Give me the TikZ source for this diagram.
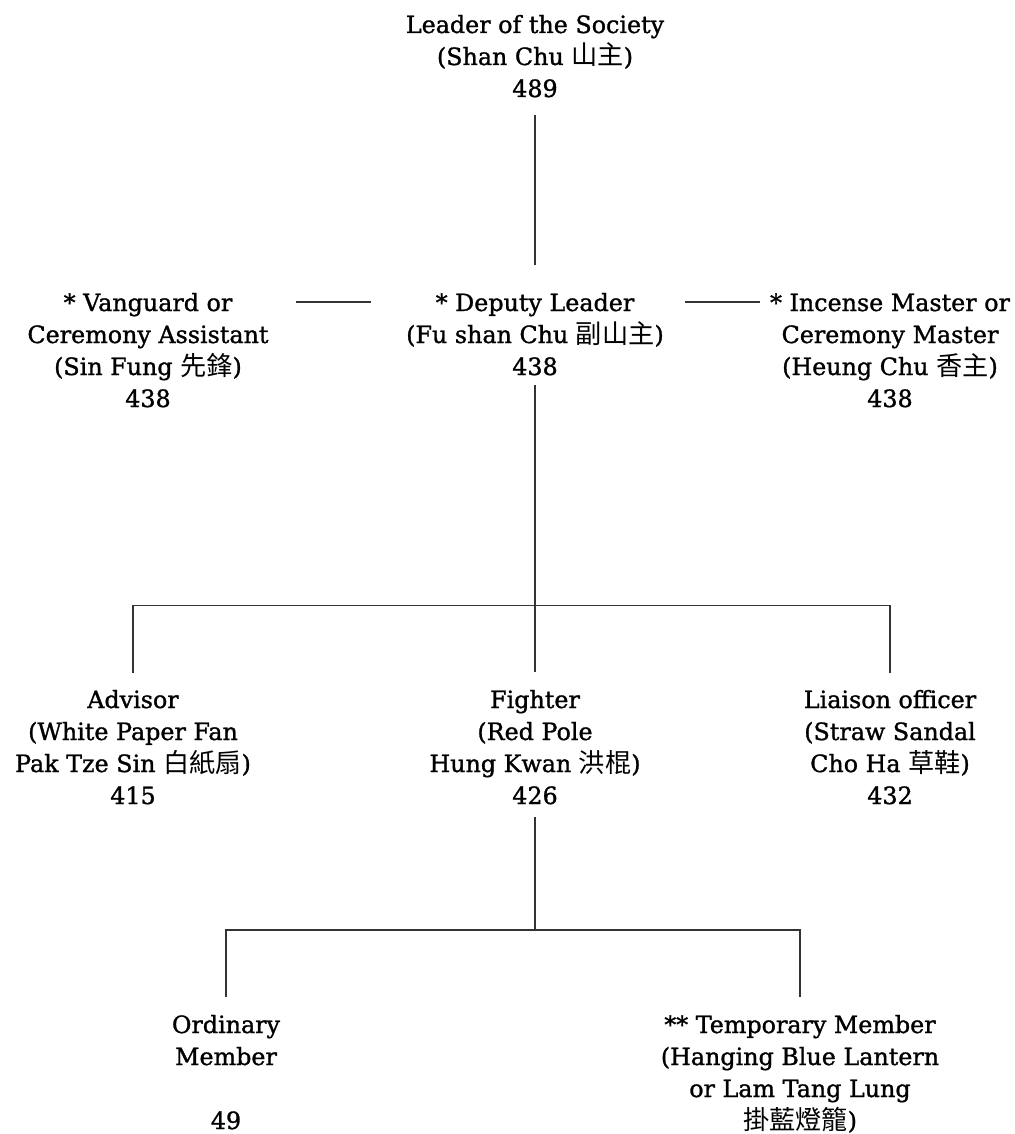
\documentclass[tikz,border=0pt]{standalone}
\usepackage{fontspec}
\setmainfont[FakeBold=1.2,AutoFakeBold=1.2]{DejaVu Serif}
\newfontfamily\cjk[Scale=1.1]{Noto Sans CJK TC}
\usetikzlibrary{calc}
\tikzset{
  role/.style={anchor=north, align=center, inner sep=0pt, outer sep=0pt,
    font=\fontsize{23.8}{32}\selectfont, text=black},
  link/.style={line width=1.1pt, draw=black!80}
}
\begin{document}
\begin{tikzpicture}[x=1pt, y=-1pt]
\useasboundingbox (0,0) rectangle (1014,1134);
% nodes
\node[role] (leader) at (535,10.6) {\strut Leader of the Society\\(Shan Chu {\cjk 山主})\\489};
\node[role] (vanguard) at (148,288.6) {\strut * Vanguard or\\Ceremony Assistant\\(Sin Fung {\cjk 先鋒})\\438};
\node[role] (deputy) at (535,288.6) {\strut * Deputy Leader\\(Fu shan Chu {\cjk 副山主})\\438};
\node[role] (incense) at (890,288.6) {\strut * Incense Master or\\Ceremony Master\\(Heung Chu {\cjk 香主})\\438};
\node[role] (advisor) at (133,685.6) {\strut Advisor\\(White Paper Fan\\Pak Tze Sin {\cjk 白紙扇})\\415};
\node[role] (fighter) at (535,685.6) {\strut Fighter\\(Red Pole\\Hung Kwan {\cjk 洪棍})\\426};
\node[role] (liaison) at (890,685.6) {\strut Liaison officer\\(Straw Sandal\\Cho Ha {\cjk 草鞋})\\432};
\node[role] (ordinary) at (226,1010.6) {\strut Ordinary\\Member\\~\\49};
\node[role] (temporary) at (800,1010.6) {\strut ** Temporary Member\\(Hanging Blue Lantern\\or Lam Tang Lung\\{\cjk 掛藍燈籠})};
% connectors
\draw[link] ($(leader.north)+(0,104.4)$) -- ($(deputy.north)+(0,-23.6)$);
\draw[link] ($(deputy.north)+(-239,13.4)$) -- ($(deputy.north)+(-164,13.4)$);
\draw[link] ($(deputy.north)+(150,13.4)$) -- ($(deputy.north)+(225,13.4)$);
\draw[link] ($(deputy.north)+(0,96.4)$) -- ($(fighter.north)+(0,-13.6)$);
\draw[link] ($(advisor.north)+(0,-13)$) -- ++(0,-67) -| ($(liaison.north)+(0,-13)$);
\draw[link] ($(fighter.north)+(0,131.4)$) -- ($(ordinary.north)+(309,-80.6)$);
\draw[link] ($(ordinary.north)+(0,-13.6)$) -- ++(0,-67) -| ($(temporary.north)+(0,-13.6)$);
\end{tikzpicture}
\end{document}
